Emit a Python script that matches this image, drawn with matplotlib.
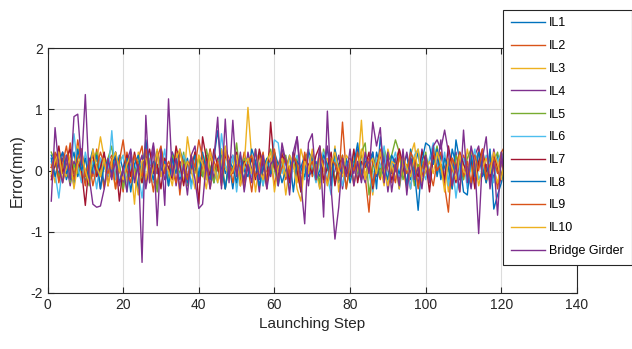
import matplotlib
matplotlib.use("Agg")
import matplotlib.pyplot as plt
import numpy as np

plt.rcParams['font.family'] = ['Liberation Sans', 'DejaVu Sans']
plt.rcParams['axes.unicode_minus'] = False

steps = list(range(1, 123))

IL1 = [0.25, 0.10, -0.05, 0.20, -0.15, 0.05, 0.30, -0.10, 0.15, -0.20,
       0.10, 0.35, -0.05, 0.20, -0.25, 0.05, 0.15, -0.10, 0.25, 0.00,
       -0.15, 0.20, 0.10, -0.30, 0.05, 0.40, -0.10, 0.15, -0.05, 0.25,
       0.00, -0.20, 0.30, 0.10, -0.15, 0.05, 0.20, -0.25, 0.10, 0.00,
       -0.10, 0.25, 0.05, -0.20, 0.15, 0.35, -0.05, 0.10, -0.30, 0.20,
       0.05, -0.15, 0.25, 0.00, -0.10, 0.30, 0.10, -0.20, 0.05, 0.15,
       -0.25, 0.10, 0.20, -0.05, 0.30, -0.15, 0.05, 0.25, -0.10, 0.00,
       0.15, -0.30, 0.10, 0.35, -0.05, 0.20, -0.20, 0.05, 0.15, -0.10,
       0.25, 0.00, -0.15, 0.20, 0.10, -0.25, 0.30, 0.05, -0.10, 0.15,
       -0.05, 0.20, -0.30, 0.10, 0.25, -0.15, 0.05, 0.30, -0.20, 0.00,
       0.15, 0.40, -0.10, 0.25, 0.05, -0.20, 0.35, 0.10, -0.15, 0.20,
       0.00, -0.25, 0.15, 0.30, -0.10, 0.05, 0.20, -0.15, 0.25, 0.10,
       -0.05, 0.20]

IL2 = [-0.10, 0.30, 0.15, -0.20, 0.05, 0.45, -0.05, 0.50, 0.10, -0.25,
       0.20, -0.10, 0.35, 0.05, -0.30, 0.15, 0.25, -0.05, 0.10, -0.35,
       0.30, 0.00, -0.15, 0.20, 0.40, -0.20, 0.10, 0.05, -0.25, 0.35,
       0.15, -0.10, 0.00, 0.25, -0.40, 0.20, 0.10, -0.05, 0.30, -0.15,
       0.05, 0.20, -0.30, 0.15, 0.00, -0.10, 0.35, 0.20, -0.20, 0.10,
       -0.05, 0.30, 0.05, -0.35, 0.15, 0.25, -0.10, 0.00, 0.20, -0.25,
       0.10, 0.30, -0.15, 0.05, 0.20, -0.05, -0.30, 0.15, 0.35, -0.10,
       0.05, 0.20, -0.20, 0.10, 0.00, 0.30, -0.15, 0.79, -0.05, 0.15,
       -0.25, 0.10, 0.25, -0.10, -0.68, 0.20, 0.05, -0.15, 0.30, 0.00,
       -0.20, 0.15, 0.35, -0.05, 0.10, -0.30, 0.20, 0.05, -0.10, 0.25,
       0.00, -0.25, 0.15, 0.30, -0.15, 0.10, 0.20, -0.05, -0.35, 0.25,
       0.05, 0.15, -0.20, 0.35, 0.00, -0.10, 0.20, 0.10, -0.30, 0.15,
       0.45, -0.10]

IL3 = [0.10, -0.20, 0.35, 0.05, -0.10, 0.25, 0.00, 0.40, -0.15, 0.20,
       -0.05, 0.30, 0.15, 0.55, 0.20, -0.10, 0.05, -0.30, 0.15, 0.25,
       -0.20, 0.10, -0.55, 0.30, 0.05, -0.15, 0.20, 0.00, 0.35, -0.10,
       0.15, -0.25, 0.05, 0.30, 0.10, -0.20, 0.55, 0.15, -0.05, 0.25,
       0.00, -0.30, 0.20, 0.10, -0.15, 0.35, 0.05, -0.10, 0.20, -0.25,
       0.15, 0.05, 1.03, 0.20, -0.35, 0.10, 0.25, -0.15, 0.00, 0.30,
       -0.10, 0.15, -0.40, 0.05, 0.20, -0.20, 0.35, 0.10, -0.05, 0.25,
       0.00, -0.30, 0.15, 0.20, -0.15, 0.40, -0.35, 0.10, 0.05, -0.20,
       0.25, 0.00, 0.82, -0.10, 0.15, -0.40, 0.20, 0.05, -0.25, 0.35,
       0.10, -0.15, 0.20, 0.00, -0.30, 0.25, 0.45, -0.10, 0.15, 0.05,
       -0.20, 0.30, 0.10, -0.05, 0.25, -0.35, 0.15, 0.00, 0.20, -0.15,
       0.35, 0.05, -0.25, 0.10, 0.20, -0.10, 0.30, 0.00, -0.20, 0.15,
       0.25, -0.05]

IL4 = [0.05, 0.20, -0.15, 0.30, 0.10, -0.25, 0.15, 0.00, 0.35, -0.10,
       0.20, -0.05, 0.10, -0.30, 0.25, 0.05, -0.15, 0.30, 0.00, -0.20,
       0.15, 0.35, -0.10, 0.05, 0.25, -0.30, 0.10, 0.45, -0.05, 0.20,
       -0.15, 0.00, 0.30, -0.25, 0.15, 0.05, -0.10, 0.25, 0.40, -0.20,
       0.10, 0.00, 0.35, -0.15, 0.20, 0.05, -0.30, 0.15, 0.25, -0.05,
       0.10, -0.20, 0.30, 0.00, 0.15, -0.35, 0.20, 0.05, -0.10, 0.25,
       0.00, 0.35, 0.15, -0.20, 0.10, 0.55, -0.05, 0.20, -0.25, 0.30,
       0.05, -0.10, 0.15, 0.40, -0.15, 0.00, 0.25, -0.30, 0.10, 0.20,
       -0.05, 0.35, 0.00, -0.20, 0.15, 0.30, -0.10, 0.05, 0.25, -0.35,
       0.10, 0.20, -0.15, 0.00, 0.30, -0.05, 0.15, -0.25, 0.35, 0.10,
       -0.10, 0.25, 0.05, 0.50, -0.20, 0.15, 0.00, 0.30, -0.15, 0.20,
       0.05, -0.30, 0.25, 0.40, -0.05, 0.10, -0.20, 0.35, 0.00, 0.15,
       -0.10, 0.30]

IL5 = [0.30, 0.15, -0.10, 0.05, 0.25, -0.20, 0.10, -0.05, 0.20, 0.00,
       -0.25, 0.15, 0.30, -0.10, 0.05, 0.20, 0.40, -0.15, 0.10, -0.30,
       0.05, 0.25, -0.05, 0.15, -0.20, 0.30, 0.00, 0.10, -0.35, 0.20,
       0.05, -0.15, 0.25, 0.10, -0.05, 0.30, -0.25, 0.15, 0.00, 0.20,
       -0.10, 0.35, 0.05, -0.20, 0.15, 0.25, -0.30, 0.10, 0.00, 0.45,
       -0.15, 0.20, 0.05, -0.05, 0.30, 0.10, -0.25, 0.15, 0.35, 0.00,
       -0.20, 0.10, 0.25, -0.10, 0.05, 0.20, -0.35, 0.15, 0.30, -0.05,
       0.10, -0.20, 0.35, 0.00, 0.20, -0.15, 0.05, 0.25, -0.30, 0.10,
       0.15, -0.05, 0.30, 0.45, -0.40, 0.05, 0.20, -0.10, 0.35, 0.15,
       0.25, 0.50, 0.30, -0.15, 0.05, 0.20, -0.25, 0.10, 0.00, 0.30,
       -0.10, 0.15, 0.40, -0.05, 0.20, 0.05, -0.30, 0.25, 0.10, -0.15,
       0.20, 0.35, -0.05, 0.10, 0.25, -0.20, 0.05, 0.15, 0.30, -0.10,
       0.20, 0.05]

IL6 = [0.15, -0.05, -0.45, 0.10, 0.25, -0.15, 0.60, 0.05, -0.20, 0.30,
       0.00, 0.15, -0.30, 0.20, 0.05, -0.10, 0.65, -0.15, 0.10, 0.25,
       -0.35, 0.05, 0.20, -0.05, -0.45, 0.15, 0.30, -0.20, 0.10, 0.00,
       0.35, -0.25, 0.15, 0.05, -0.10, 0.25, 0.10, -0.30, 0.20, 0.00,
       0.15, -0.15, 0.30, 0.05, -0.20, 0.60, 0.10, -0.05, 0.25, -0.35,
       0.15, 0.00, 0.20, -0.10, 0.35, 0.05, -0.25, 0.15, 0.10, 0.50,
       0.45, -0.05, 0.20, -0.30, 0.10, 0.25, 0.00, -0.15, 0.35, 0.05,
       -0.20, 0.15, 0.30, -0.10, -0.40, 0.20, 0.05, -0.25, 0.15, 0.00,
       0.30, -0.15, 0.10, 0.25, -0.05, -0.35, 0.20, 0.05, 0.40, -0.20,
       0.10, 0.30, -0.10, 0.15, 0.00, -0.30, 0.25, 0.35, 0.05, -0.15,
       0.20, 0.45, 0.10, -0.05, 0.30, -0.25, 0.15, -0.45, 0.05, 0.20,
       -0.30, 0.10, 0.35, -0.15, 0.00, 0.25, 0.10, -0.20, 0.15, 0.30,
       -0.05, 0.10]

IL7 = [-0.15, 0.10, 0.40, -0.05, 0.20, 0.35, -0.20, 0.15, 0.00, -0.57,
       0.10, 0.25, -0.10, 0.05, 0.30, -0.25, 0.15, 0.20, -0.50, 0.05,
       0.25, -0.10, 0.30, 0.00, -0.20, 0.15, 0.35, -0.05, 0.10, -0.30,
       0.20, 0.05, -0.15, 0.40, 0.10, -0.25, 0.15, 0.00, 0.30, -0.55,
       0.55, 0.20, -0.10, 0.35, 0.05, -0.20, 0.25, 0.10, -0.05, 0.30,
       -0.25, 0.15, 0.00, 0.20, -0.15, 0.35, 0.10, -0.30, 0.79, 0.05,
       -0.10, 0.25, 0.15, -0.20, 0.30, 0.00, -0.35, 0.20, 0.10, -0.05,
       0.25, 0.40, -0.15, 0.05, 0.30, -0.25, 0.10, 0.20, 0.00, -0.10,
       0.35, -0.20, 0.15, 0.05, 0.30, -0.30, 0.10, 0.25, -0.05, 0.20,
       -0.15, 0.00, 0.35, 0.10, -0.25, 0.20, 0.05, -0.10, 0.30, 0.15,
       -0.35, 0.25, 0.00, 0.10, -0.15, 0.40, 0.05, -0.20, 0.30, 0.10,
       -0.05, 0.20, -0.30, 0.15, 0.35, 0.00, -0.10, 0.25, 0.05, -0.20,
       0.45, 0.10]

IL8 = [0.20, -0.10, 0.15, 0.30, -0.05, 0.10, -0.25, 0.35, 0.00, 0.20,
       -0.15, 0.05, 0.25, -0.30, 0.10, 0.15, -0.05, 0.30, -0.20, 0.00,
       0.20, -0.35, 0.10, 0.25, -0.10, 0.50, 0.05, -0.15, 0.30, 0.00,
       0.15, -0.25, 0.20, -0.05, 0.35, 0.10, -0.20, 0.05, 0.25, -0.10,
       0.30, 0.00, -0.15, 0.20, 0.65, 0.10, -0.30, 0.15, 0.05, -0.20,
       0.25, 0.00, -0.10, 0.35, 0.15, -0.25, 0.05, 0.20, -0.05, 0.30,
       0.10, -0.20, 0.00, 0.25, -0.35, 0.15, 0.05, -0.10, 0.30, 0.20,
       -0.15, 0.00, 0.25, 0.10, -0.25, 0.35, 0.05, -0.05, 0.20, -0.20,
       0.10, 0.45, -0.10, 0.15, 0.00, 0.30, -0.30, 0.55, 0.05, -0.15,
       0.25, 0.10, -0.05, 0.20, -0.25, 0.35, 0.00, -0.65, 0.15, 0.45,
       0.40, 0.10, 0.35, -0.15, 0.20, 0.05, -0.30, 0.50, 0.15, -0.35,
       -0.40, 0.25, -0.10, 0.30, 0.05, -0.20, 0.35, -0.63, -0.40, -0.20,
       0.15, 0.05]

IL9 = [0.05, 0.25, -0.20, 0.10, 0.40, 0.00, -0.15, 0.20, 0.35, -0.10,
       0.15, -0.25, 0.05, 0.30, 0.10, -0.05, 0.20, -0.30, 0.15, 0.50,
       0.00, -0.20, 0.25, 0.10, -0.10, 0.35, 0.05, -0.35, 0.20, 0.40,
       -0.05, 0.15, 0.00, -0.20, 0.30, 0.10, -0.15, 0.25, 0.05, 0.50,
       0.20, -0.10, 0.35, 0.00, 0.15, -0.25, 0.30, 0.10, -0.05, 0.20,
       0.05, -0.30, 0.15, 0.25, -0.10, 0.00, 0.30, -0.20, 0.10, 0.35,
       -0.15, 0.05, 0.20, -0.05, 0.25, 0.10, -0.25, 0.30, 0.00, 0.15,
       -0.10, 0.35, 0.05, -0.20, 0.20, 0.10, -0.05, 0.25, -0.30, 0.15,
       0.00, 0.30, -0.15, 0.10, 0.20, -0.25, 0.05, 0.35, -0.10, 0.15,
       0.00, -0.20, 0.25, 0.10, -0.05, 0.30, 0.15, -0.30, 0.05, 0.20,
       -0.15, 0.35, 0.00, 0.10, -0.25, -0.68, 0.20, 0.05, 0.30, -0.10,
       0.15, -0.20, 0.25, 0.00, 0.35, -0.15, 0.10, 0.20, -0.05, 0.30,
       0.40, -0.10]

IL10 = [-0.05, 0.15, 0.30, -0.15, 0.05, 0.20, -0.30, 0.10, 0.25, 0.00,
        -0.20, 0.35, 0.05, -0.10, 0.20, -0.25, 0.15, 0.30, 0.00, -0.15,
        0.10, 0.25, -0.05, -0.40, 0.15, 0.20, -0.20, 0.05, 0.30, -0.10,
        0.10, 0.00, -0.25, 0.20, 0.35, -0.05, 0.15, 0.00, -0.30, 0.25,
        0.10, -0.15, 0.30, 0.05, -0.20, 0.15, 0.40, -0.10, 0.00, 0.25,
        -0.25, 0.10, 0.20, -0.05, 0.35, 0.00, -0.15, 0.15, 0.30, -0.35,
        0.05, 0.20, -0.10, 0.25, 0.10, -0.30, -0.50, 0.15, 0.00, 0.35,
        -0.15, 0.20, 0.05, -0.25, 0.10, 0.30, 0.00, -0.10, 0.25, 0.15,
        -0.20, 0.05, 0.35, -0.15, 0.10, 0.20, -0.05, 0.30, 0.00, -0.25,
        0.15, 0.10, -0.30, 0.25, 0.05, -0.10, 0.20, 0.35, -0.20, 0.00,
        0.15, -0.05, 0.30, 0.10, -0.35, 0.20, 0.05, -0.15, 0.25, 0.00,
        -0.10, 0.35, 0.15, -0.25, 0.05, 0.20, -0.05, 0.30, 0.10, -0.15,
        0.25, 0.00]

bridge_girder = [-0.50, 0.70, 0.05, -0.20, 0.25, -0.15, 0.88, 0.92, 0.10, 1.24,
                 -0.10, -0.55, -0.60, -0.58, -0.30, 0.20, -0.10, 0.15, -0.25, 0.05,
                 -0.35, 0.30, -0.20, 0.10, -1.50, 0.90, -0.20, 0.40, -0.90, 0.35,
                 -0.57, 1.17, -0.10, 0.20, -0.30, 0.10, -0.40, 0.25, -0.15, -0.62,
                 -0.55, 0.15, -0.30, 0.20, 0.87, -0.30, 0.84, -0.20, 0.82, -0.10,
                 0.30, -0.35, 0.10, -0.20, 0.35, -0.15, 0.25, -0.30, 0.10, 0.20,
                 -0.25, 0.45, 0.15, -0.40, 0.30, 0.55, -0.20, -0.87, 0.45, 0.60,
                 -0.15, 0.40, -0.76, 0.97, -0.30, -1.12, -0.60, 0.20, -0.10, 0.35,
                 -0.25, 0.15, -0.20, 0.30, -0.05, 0.79, 0.40, 0.70, -0.20, 0.30,
                 -0.35, 0.10, -0.25, 0.35, -0.40, 0.20, -0.15, 0.05, -0.30, 0.25,
                 -0.20, 0.40, 0.50, 0.35, 0.66, 0.30, -0.25, 0.10, -0.35, 0.66,
                 -0.20, 0.40, 0.10, -1.03, 0.20, 0.55, -0.30, 0.15, -0.73, 0.30,
                 -0.20, 0.10]

labels = ['IL1', 'IL2', 'IL3', 'IL4', 'IL5', 'IL6', 'IL7', 'IL8', 'IL9', 'IL10', 'Bridge Girder']
series = [IL1, IL2, IL3, IL4, IL5, IL6, IL7, IL8, IL9, IL10, bridge_girder]
colors = ['#0072BD', '#D95319', '#EDB120', '#7E2F8E', '#77AC30', '#4DBEEE', '#A2142F',
          '#0072BD', '#D95319', '#EDB120', '#7E2F8E']

fig = plt.figure(figsize=(6.32, 3.49), dpi=100)
ax = fig.add_axes([47.5 / 632, 1 - 293 / 349, (577 - 47.5) / 632, (293 - 48) / 349])

for lab, ys, c in zip(labels, series, colors):
    ax.plot(steps, ys, color=c, lw=1.0, label=lab)

ax.set_xlim(0, 140)
ax.set_ylim(-2, 2)
ax.set_xticks(range(0, 141, 20))
ax.set_yticks([-2, -1, 0, 1, 2])
ax.grid(True, color='#DCDCDC', lw=0.8)
ax.set_axisbelow(True)
ax.tick_params(direction='in', top=True, right=True, length=4, width=0.8,
               labelsize=10, colors='#262626')
for s in ax.spines.values():
    s.set_color('#262626')
    s.set_linewidth(0.8)
ax.set_xlabel('Launching Step', fontsize=11, color='#262626', labelpad=4)
ax.set_ylabel('Error(mm)', fontsize=11.5, color='#262626', labelpad=4)

leg = ax.legend(loc='upper left', bbox_to_anchor=(503 / 632, 1 - 10 / 349),
                bbox_transform=fig.transFigure, fontsize=9, frameon=True,
                fancybox=False, edgecolor='#262626', framealpha=1,
                handlelength=2.75, handletextpad=0.35, labelspacing=0.86,
                borderpad=0.6, borderaxespad=0)
leg.get_frame().set_linewidth(0.8)
leg.set_zorder(10)

fig.savefig('out.png', dpi=100)
